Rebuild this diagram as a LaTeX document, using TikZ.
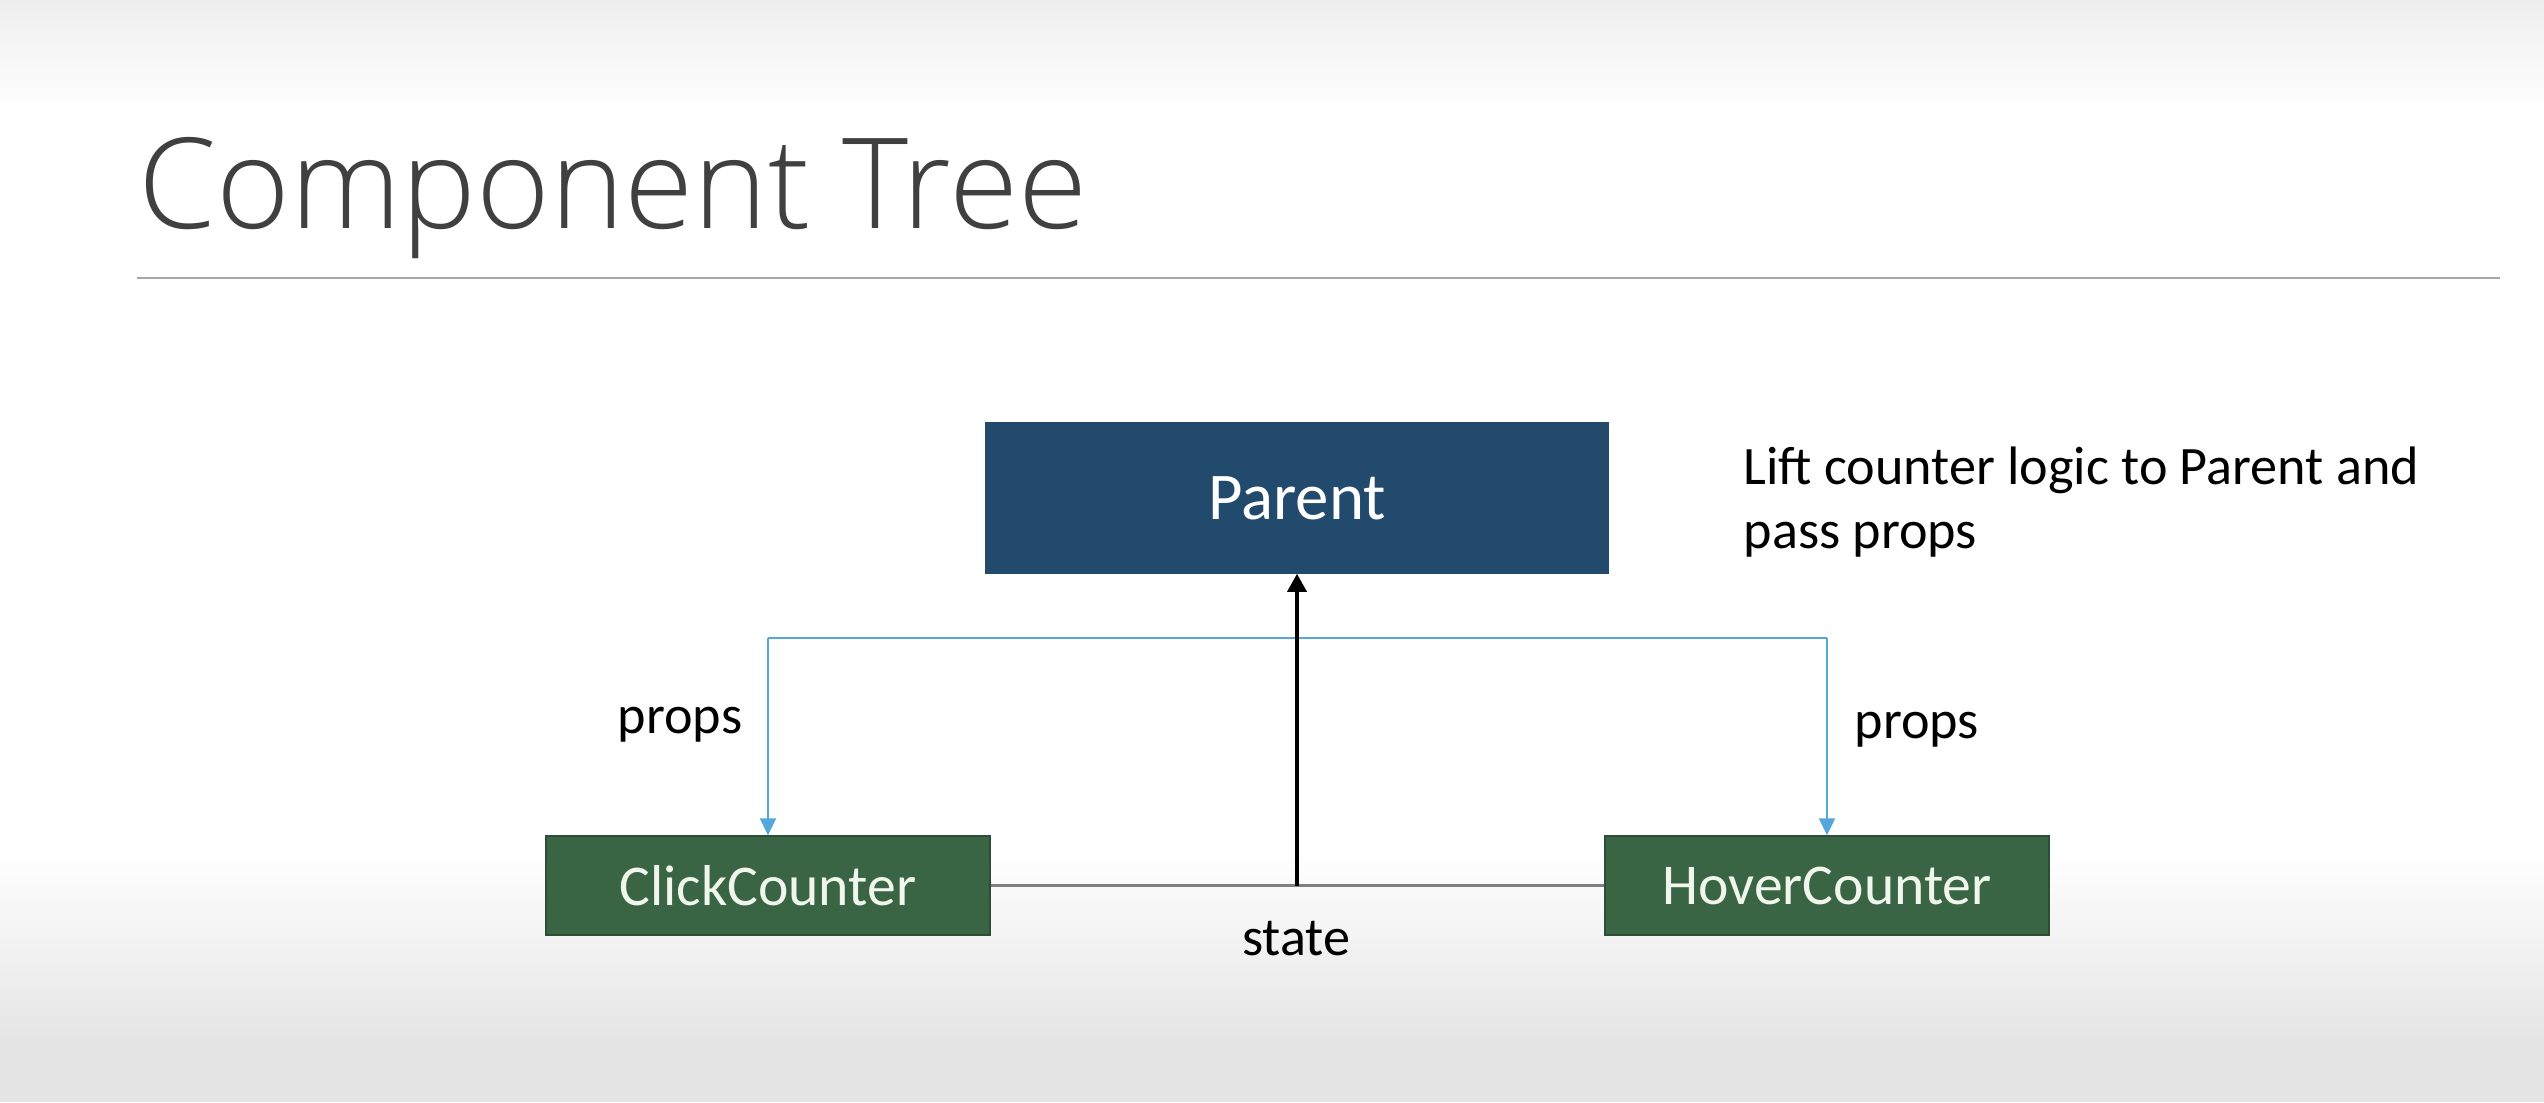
\documentclass[tikz,border=0pt]{standalone}
\usepackage{fontspec}
\setmainfont{Carlito}
\newfontfamily\titlefont{Open Sans Light}
\usetikzlibrary{arrows.meta}
\definecolor{parentblue}{HTML}{214A6D}
\definecolor{childgreen}{HTML}{3A6544}
\definecolor{childedge}{HTML}{2C4E34}
\definecolor{childtext}{HTML}{F0F6EC}
\definecolor{propsblue}{HTML}{55A6DC}
\definecolor{titlegray}{HTML}{404040}
\definecolor{rulegray}{HTML}{A6A6A6}
\definecolor{stategray}{HTML}{7F7F7F}
\definecolor{bandtop}{HTML}{EEEEEE}
\definecolor{bandbottom}{HTML}{E5E5E5}
\tikzset{
  parentbox/.style={fill=parentblue, draw=parentblue, text=white,
    minimum width=6.22cm, minimum height=1.50cm, inner sep=0pt,
    font=\fontsize{19}{22}\selectfont},
  childbox/.style={fill=childgreen, draw=childedge, line width=0.4pt, text=childtext,
    minimum width=4.44cm, minimum height=0.99cm, inner sep=0pt,
    font=\fontsize{16.4}{19}\selectfont},
  lbl/.style={inner sep=0pt, font=\fontsize{15.4}{18}\selectfont, text=black},
  propsline/.style={draw=propsblue, line width=0.6pt},
  propsarrow/.style={propsline, -{Triangle[width=0.16cm,length=0.17cm]}},
  statearrow/.style={draw=black, line width=0.9pt, -{Triangle[width=0.19cm,length=0.18cm]}},
  stateline/.style={draw=stategray, line width=0.9pt},
}
\begin{document}
\begin{tikzpicture}[x=0.01cm, y=-0.01cm]
  \useasboundingbox (0,0) rectangle (2544,1102);
  % slide background with soft grey bands at top and bottom
  \fill[white] (0,0) rectangle (2544,1102);
  \shade[top color=bandtop, bottom color=white] (0,0) rectangle (2544,110);
  \shade[top color=white, bottom color=bandbottom] (0,850) rectangle (2544,1040);
  \fill[bandbottom] (0,1039) rectangle (2544,1102);

  % title and rule
  \node[anchor=base west, inner sep=0pt, text=titlegray, font=\titlefont\fontsize{35.8}{40}\selectfont] (title) at (138,228) {Component Tree};
  \coordinate (ruleL) at (137,278);
  \coordinate (ruleR) at (2500,278);
  \draw[rulegray, line width=0.6pt] (ruleL) -- (ruleR);

  % components
  \node[parentbox] (parent) at (1297,498) {Parent};
  \node[childbox] (click) at (768,885.5) {ClickCounter};
  \node[childbox] (hover) at (1827,885.5) {HoverCounter};

  % props flow down from the bus
  \coordinate (bus) at (1297,638);
  \draw[propsline] (click.north |- bus) -- (hover.north |- bus);
  \draw[propsarrow] (click.north |- bus) -- (click.north);
  \draw[propsarrow] (hover.north |- bus) -- (hover.north);

  % shared state line and lift to parent
  \draw[stateline] (click.east) -- (hover.west);
  \draw[statearrow] (parent.south |- click.east) -- (parent.south);

  % labels
  \node[lbl, anchor=base east] (propsL) at (743,733) {props};
  \node[lbl, anchor=base west] (propsR) at (1854,738) {props};
  \node[lbl, anchor=base] (state) at (1296,955) {state};
  \node[lbl, anchor=base west, align=left] (note) at (1743,548) {Lift counter logic to Parent and\\pass props};
\end{tikzpicture}
\end{document}
